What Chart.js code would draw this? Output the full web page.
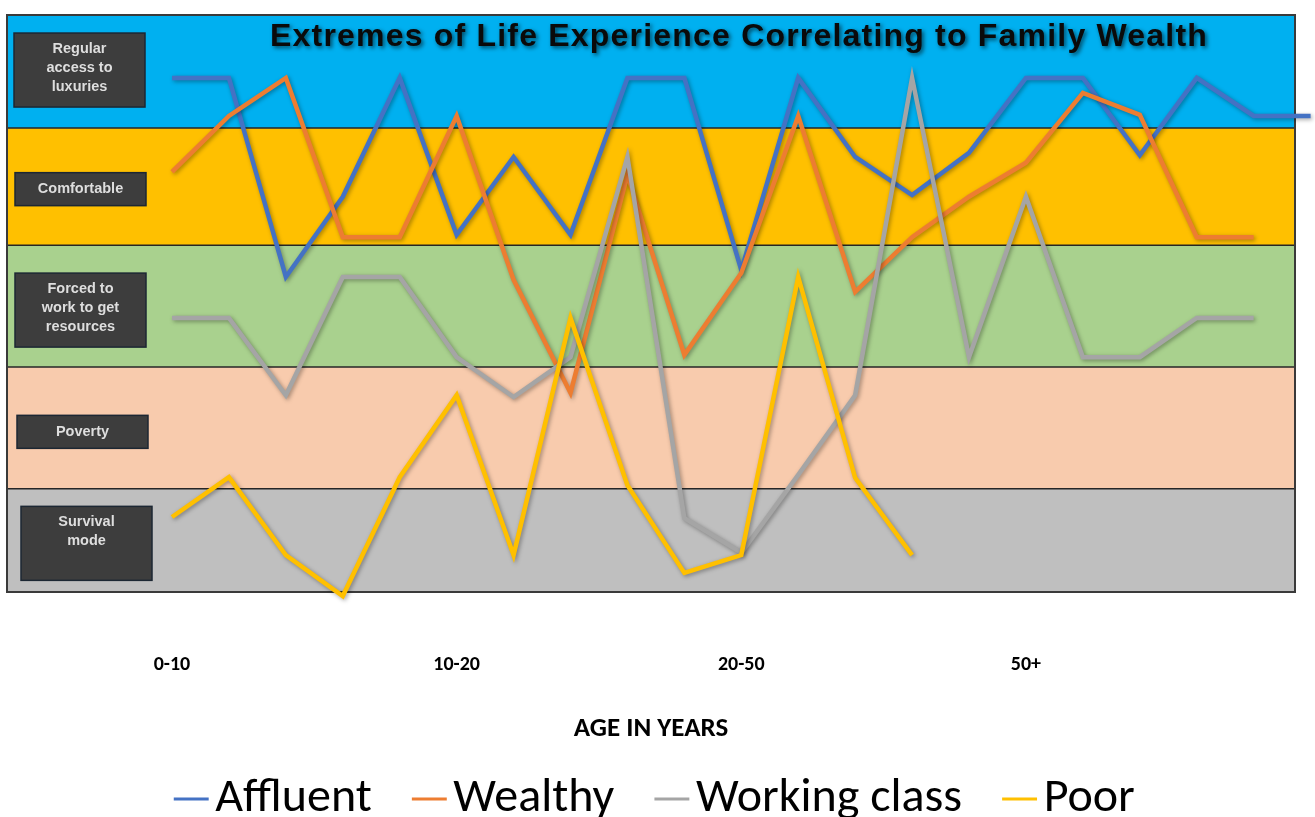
<!DOCTYPE html>
<html>
<head>
<meta charset="utf-8">
<title>Extremes of Life Experience Correlating to Family Wealth</title>
<script src="https://cdn.jsdelivr.net/npm/chart.js@4.4.1/dist/chart.umd.min.js"></script>
<style>
  html, body { margin: 0; padding: 0; background: #fff; }
  #chart { display: block; }
</style>
</head>
<body>
<canvas id="chart" width="1315" height="817"></canvas>
<script>
const TITLE = "Extremes of Life Experience Correlating to Family Wealth";
const AXIS_TITLE = "AGE IN YEARS";

// x positions are age steps; only four of them carry a label
const ageTicks = [0, 5, 10, 15];
const ageLabels = ["0-10", "10-20", "20-50", "50+"];

const seriesNames = ["Affluent", "Wealthy", "Working class", "Poor"];
const seriesColors = ["#4472C4", "#ED7D31", "#A5A5A5", "#FFC000"];

// life level, 0 = bottom of "Survival mode", 100 = top of "Regular access to luxuries"
const affluent = [89.1, 89.1, 54.6, 68.5, 89.1, 61.9, 75.4, 61.9, 89.1, 89.1, 55.8, 89.1, 75.4, 68.8, 76.1, 89.1, 89.1, 75.7, 89.1, 82.5, 82.5];
const wealthy = [72.8, 82.5, 89.1, 61.5, 61.5, 82.5, 54.1, 34.5, 72.3, 41.1, 55.3, 82.5, 52.0, 61.5, 68.5, 74.4, 86.5, 82.7, 61.5, 61.5];
const workingClass = [47.5, 47.5, 34.1, 54.6, 54.6, 40.7, 33.8, 40.7, 75.4, 12.8, 6.8, 20.3, 34.1, 89.1, 40.7, 68.5, 40.7, 40.7, 47.5, 47.5];
const poor = [13.0, 19.9, 6.4, -0.7, 19.9, 34.1, 6.4, 47.5, 18.5, 3.3, 6.4, 54.6, 19.8, 6.4];

// background bands, bottom to top
const levelEdges = [0, 17.9, 39.0, 60.1, 80.4, 100];
const levelColors = ["#BFBFBF", "#F8CBAD", "#A9D18E", "#FFC000", "#00B0F0"];
const levelLabels = [
  ["Survival", "mode"],
  ["Poverty"],
  ["Forced to", "work to get", "resources"],
  ["Comfortable"],
  ["Regular", "access to", "luxuries"],
];

const FONT = 'Carlito, Lato, "Open Sans", sans-serif';
const BOX_FONT = 'bold 14.5px "Liberation Sans", Arial, sans-serif';
const TITLE_FONT = 'bold 32px "Liberation Sans", Arial, sans-serif';

const boxLeft = [14, 10, 8, 8, 7];
const boxShift = [3, 4, 4, 2.5, -1.5];

const bandsPlugin = {
  id: "bands",
  afterLayout(chart) {
    // legend sits a little right of centre in the original
    chart.legend.left += 12;
    chart.legend.right += 12;
  },
  beforeDatasetsDraw(chart) {
    const { ctx, chartArea: a, scales } = chart;
    const y = scales.y;
    ctx.save();

    levelColors.forEach((color, i) => {
      const top = y.getPixelForValue(levelEdges[i + 1]);
      const bottom = y.getPixelForValue(levelEdges[i]);
      ctx.fillStyle = color;
      ctx.fillRect(a.left, top, a.right - a.left, bottom - top);
    });

    ctx.strokeStyle = "#262626";
    ctx.lineWidth = 1.5;
    for (let i = 1; i < levelEdges.length - 1; i++) {
      const py = y.getPixelForValue(levelEdges[i]);
      ctx.beginPath();
      ctx.moveTo(a.left, py);
      ctx.lineTo(a.right, py);
      ctx.stroke();
    }
    ctx.strokeStyle = "#3a3a3a";
    ctx.lineWidth = 2;
    ctx.strokeRect(a.left, a.top, a.right - a.left, a.bottom - a.top);

    // dark label boxes on the left
    ctx.font = BOX_FONT;
    ctx.textAlign = "center";
    ctx.textBaseline = "middle";
    levelLabels.forEach((lines, i) => {
      const mid = (y.getPixelForValue(levelEdges[i]) + y.getPixelForValue(levelEdges[i + 1])) / 2 + boxShift[i];
      const h = lines.length > 1 ? 74 : 33;
      const top = mid - h / 2;
      const left = a.left + boxLeft[i];
      ctx.fillStyle = "#3d3d3d";
      ctx.fillRect(left, top, 131, h);
      ctx.strokeStyle = "#1c2733";
      ctx.lineWidth = 1.5;
      ctx.strokeRect(left, top, 131, h);
      ctx.fillStyle = "#dedede";
      lines.forEach((line, j) => {
        const ty = lines.length > 1 ? top + 16 + j * 19 : mid;
        ctx.fillText(line, left + 65.5, ty);
      });
    });

    // title sits inside the plot
    ctx.font = TITLE_FONT;
    ctx.letterSpacing = "1.2px";
    ctx.fillStyle = "#0a0a0a";
    ctx.shadowColor = "rgba(0,0,0,0.6)";
    ctx.shadowBlur = 4;
    ctx.shadowOffsetX = 2;
    ctx.shadowOffsetY = 2;
    ctx.fillText(TITLE, 739, 37);
    ctx.restore();
  },
};

const shadowPlugin = {
  id: "lineShadow",
  beforeDatasetDraw(chart) {
    const ctx = chart.ctx;
    ctx.save();
    ctx.shadowColor = "rgba(0,0,0,0.35)";
    ctx.shadowBlur = 4;
    ctx.shadowOffsetX = 1.5;
    ctx.shadowOffsetY = 1.5;
  },
  afterDatasetDraw(chart) {
    chart.ctx.restore();
  },
};

const seriesValues = [affluent, wealthy, workingClass, poor];
const datasets = seriesValues.map((values, i) => ({
  label: seriesNames[i],
  data: values.map((v, idx) => ({ x: idx, y: v })),
  borderColor: seriesColors[i],
  backgroundColor: seriesColors[i],
  borderWidth: 4.5,
  pointRadius: 0,
  tension: 0,
  clip: false,
  order: seriesValues.length - i,
}));

new Chart(document.getElementById("chart"), {
  type: "line",
  data: { datasets },
  options: {
    responsive: false,
    animation: false,
    devicePixelRatio: 1,
    layout: { padding: { left: 7, right: 20, top: 15, bottom: -16 } },
    plugins: {
      legend: {
        position: "bottom",
        labels: {
          usePointStyle: true,
          pointStyle: "line",
          boxWidth: 0.1,
          boxHeight: 24.7,
          padding: 57.5,
          color: "#000",
          font: { family: FONT, size: 48 },
          sort: (a, b) => a.datasetIndex - b.datasetIndex,
          generateLabels: (chart) =>
            Chart.defaults.plugins.legend.labels
              .generateLabels(chart)
              .map((item) => ({ ...item, lineWidth: 3 })),
        },
      },
      tooltip: { enabled: false },
    },
    scales: {
      x: {
        type: "linear",
        min: -2.898,
        max: 19.726,
        grid: { display: false, drawTicks: false },
        border: { display: false },
        afterBuildTicks: (scale) => {
          scale.ticks = ageTicks.map((v) => ({ value: v }));
        },
        afterFit: (scale) => {
          scale.height = 125.5;
        },
        ticks: {
          autoSkip: false,
          maxRotation: 0,
          padding: 61,
          color: "#000",
          font: { family: FONT, size: 20, weight: "bold" },
          callback: (v) => ageLabels[ageTicks.indexOf(v)] ?? "",
        },
        title: {
          display: true,
          text: AXIS_TITLE,
          color: "#000",
          font: { family: FONT, size: 27, weight: "bold" },
          padding: { top: 0, bottom: -27.7 },
        },
      },
      y: { min: 0, max: 100, display: false },
    },
  },
  plugins: [bandsPlugin, shadowPlugin],
});
</script>
</body>
</html>
